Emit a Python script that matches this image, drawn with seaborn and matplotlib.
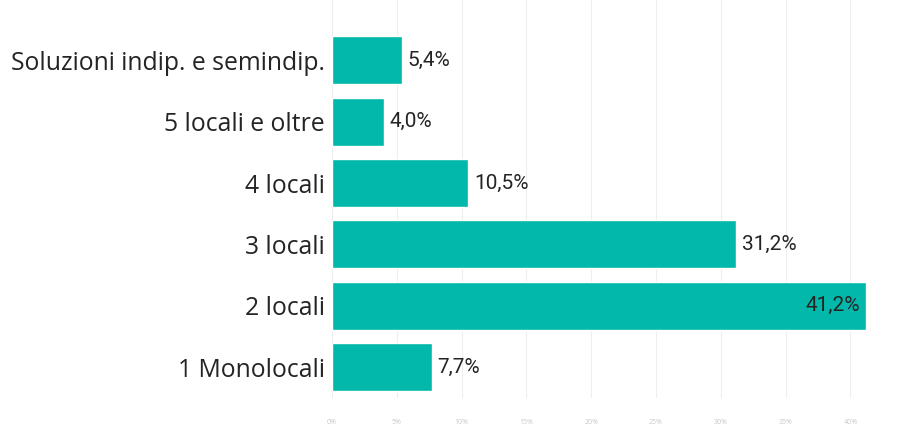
import matplotlib
matplotlib.use("Agg")
import matplotlib.pyplot as plt
import seaborn as sns
import pandas as pd
from matplotlib.ticker import FuncFormatter, MultipleLocator

categories = ["Soluzioni indip. e semindip.", "5 locali e oltre", "4 locali",
              "3 locali", "2 locali", "1 Monolocali"]
values = [5.4, 4.0, 10.5, 31.2, 41.2, 7.7]
value_labels = ["5,4%", "4,0%", "10,5%", "31,2%", "41,2%", "7,7%"]

df = pd.DataFrame({"cat": categories, "val": values})

sns.set_theme(style="white")
plt.rcParams['font.family'] = ['Open Sans', 'DejaVu Sans']

fig = plt.figure(figsize=(9.10, 4.26), dpi=100)
ax = fig.add_axes([332/910, 1 - 398/426, 1 - 332/910, 398/426])

sns.barplot(data=df, x="val", y="cat", color="#01B8AA", width=0.78,
            saturation=1, ax=ax, zorder=3)

ax.set_xlim(0, 44.6)
ax.set_ylim(5.5, -0.98)
ax.xaxis.set_major_locator(MultipleLocator(5))
ax.xaxis.set_major_formatter(FuncFormatter(lambda v, p: f"{int(v)}%"))
ax.grid(axis="x", color="#EEEEEE", linewidth=0.8, zorder=0)
for s in ax.spines.values():
    s.set_visible(False)
ax.tick_params(axis="x", labelsize=5, colors="#C8C8C8", length=0, pad=15)
ax.tick_params(axis="y", labelsize=17.8, colors="#252423", length=0, pad=5)
ax.set_xlabel("")
ax.set_ylabel("")

lab_font = ["Roboto", "DejaVu Sans"]
for i, (v, lab) in enumerate(zip(values, value_labels)):
    if v > 38:
        ax.text(v - 0.45, i, lab, ha="right", va="center", fontsize=15,
                color="#252423", family=lab_font, zorder=4)
    else:
        ax.text(v + 0.45, i, lab, ha="left", va="center", fontsize=15,
                color="#252423", family=lab_font, zorder=4)

fig.savefig("out.png", dpi=100)
